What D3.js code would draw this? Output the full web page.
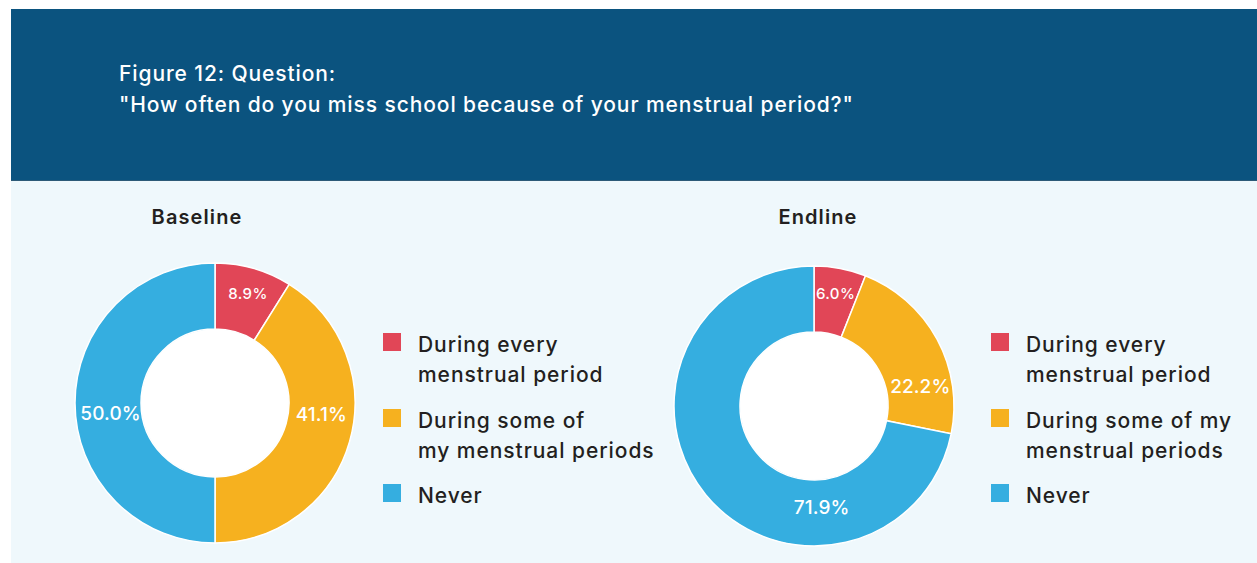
<!DOCTYPE html>
<html>
<head>
<meta charset="utf-8">
<script src="https://cdn.jsdelivr.net/npm/d3@7"></script>
<style>
  html, body { margin: 0; padding: 0; background: #ffffff; }
  svg { display: block; }
  text { font-family: "Inter", "Open Sans", "DejaVu Sans", sans-serif; }
</style>
</head>
<body>
<svg id="chart" width="1257" height="563"></svg>
<script>
// ---- data ----
const titleLines = ["Figure 12: Question:", "\"How often do you miss school because of your menstrual period?\""];
const categories = ["During every menstrual period", "During some of my menstrual periods", "Never"];
const chartNames = ["Baseline", "Endline"];
const baselineValues = [8.9, 41.1, 50.0];
const endlineValues = [6.0, 22.2, 71.9];
const baselineLegendLines = [["During every", "menstrual period"], ["During some of", "my menstrual periods"], ["Never"]];
const endlineLegendLines = [["During every", "menstrual period"], ["During some of my", "menstrual periods"], ["Never"]];
const colors = ["#e14657", "#f6b11f", "#35aee0"];

// ---- layout ----
const svg = d3.select("#chart");
svg.append("rect").attr("x", 11).attr("y", 181).attr("width", 1246).attr("height", 382).attr("fill", "#eff8fc");
svg.append("rect").attr("x", 11).attr("y", 9).attr("width", 1246).attr("height", 172).attr("fill", "#0b537f");
svg.append("rect").attr("x", 11).attr("y", 180).attr("width", 1246).attr("height", 1).attr("fill", "#2d5a78");

svg.selectAll("text.title").data(titleLines).enter().append("text")
  .attr("class", "title")
  .attr("x", 119).attr("y", (d, i) => 81 + i * 31)
  .attr("fill", "#ffffff").attr("font-size", 21).attr("font-weight", 500)
  .attr("letter-spacing", 0.9)
  .text(d => d);

const color = d3.scaleOrdinal().domain(categories).range(colors);

const charts = [
  { name: chartNames[0], values: baselineValues, legend: baselineLegendLines, cx: 215, cy: 403, R: 140, r: 74,
    titleX: 197, legendX: 383, labelAngles: [16.8, 96.2, 264.3], labelR: [114, 107, 105] },
  { name: chartNames[1], values: endlineValues, legend: endlineLegendLines, cx: 814, cy: 406, R: 140, r: 74,
    titleX: 818, legendX: 991, labelAngles: [10.8, 79.7, 175.7], labelR: [115, 108, 102] }
];

const pie = d3.pie().sort(null).value(d => d.value);

charts.forEach(c => {
  const data = categories.map((cat, i) => ({ cat, value: c.values[i] }));
  const arcs = pie(data);
  const arc = d3.arc().innerRadius(c.r).outerRadius(c.R);
  const g = svg.append("g").attr("transform", `translate(${c.cx},${c.cy})`);
  g.selectAll("path").data(arcs).enter().append("path")
    .attr("d", arc)
    .attr("fill", d => color(d.data.cat))
    .attr("stroke", "#ffffff").attr("stroke-width", 1.5);
  g.append("circle").attr("r", c.r - 0.5).attr("fill", "#ffffff");

  g.selectAll("text.lbl").data(arcs).enter().append("text")
    .attr("class", "lbl")
    .attr("transform", (d, i) => {
      const a = c.labelAngles[i] * Math.PI / 180;
      const rr = c.labelR[i];
      return `translate(${rr * Math.sin(a)},${-rr * Math.cos(a)})`;
    })
    .attr("text-anchor", "middle").attr("dominant-baseline", "central")
    .attr("fill", "#ffffff")
    .attr("font-size", d => d.data.value < 10 ? 15 : 19)
    .attr("font-weight", 500)
    .attr("letter-spacing", d => d.data.value < 10 ? 0.4 : 0.1)
    .text(d => d3.format(".1f")(d.data.value) + "%");

  svg.append("text")
    .attr("x", c.titleX).attr("y", 224)
    .attr("text-anchor", "middle")
    .attr("fill", "#231f20").attr("font-size", 20).attr("font-weight", 600)
    .attr("letter-spacing", 1.1)
    .text(c.name);

  const rowY = [352, 428, 503];
  const lg = svg.append("g");
  categories.forEach((cat, i) => {
    lg.append("rect").attr("x", c.legendX).attr("y", rowY[i] - 19).attr("width", 18).attr("height", 18)
      .attr("fill", color(cat));
    c.legend[i].forEach((line, j) => {
      lg.append("text")
        .attr("x", c.legendX + 35).attr("y", rowY[i] + j * 30)
        .attr("fill", "#231f20").attr("font-size", 21).attr("font-weight", 500)
        .attr("letter-spacing", 0.95)
        .text(line);
    });
  });
});
</script>
</body>
</html>
